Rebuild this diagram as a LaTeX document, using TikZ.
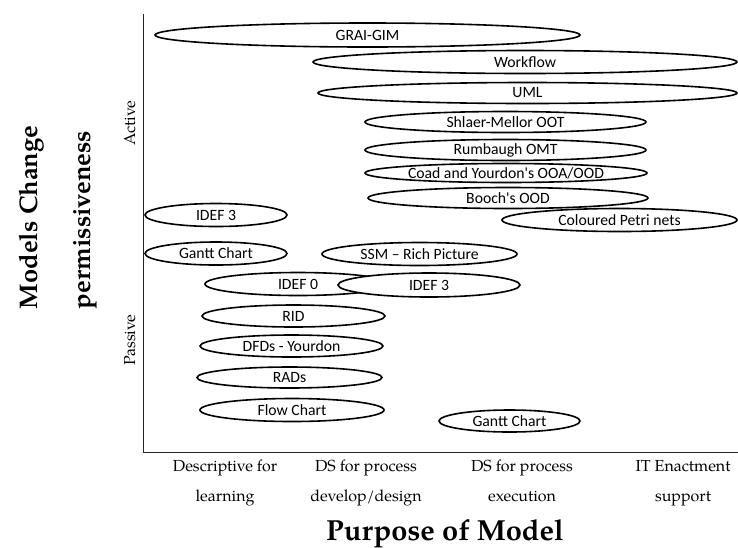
\documentclass[tikz,border=0pt]{standalone}
\usepackage{fontspec}
\usetikzlibrary{shapes.geometric}
\newfontfamily\labelfont{Carlito}
\newfontfamily\axisfont{texgyrepagella}[Extension=.otf, UprightFont=*-regular, BoldFont=*-bold]
\begin{document}
\begin{tikzpicture}[x=1pt, y=-1pt,
  model/.style={ellipse, draw=black, line width=1.6pt, fill=white, inner sep=0pt,
    font=\labelfont\fontsize{15.7}{18}\selectfont},
  tick/.style={font=\axisfont\fontsize{16}{19}\selectfont, anchor=base, inner sep=0pt},
  title/.style={font=\axisfont\bfseries\fontsize{29}{34}\selectfont, anchor=base, inner sep=0pt},
  vtitle/.style={title, font=\axisfont\bfseries\fontsize{25.5}{30}\selectfont, rotate=90},
  axis/.style={line width=1.6pt, draw=black!85}]
\useasboundingbox (0,0) rectangle (738,547);

% axes
\coordinate (top) at (143.5,14);
\coordinate (origin) at (143.5,452.5);
\coordinate (right) at (738,452.5);
\draw[axis] (top) -- (origin) -- (right);

% axis titles
\node[vtitle] (ytitleA) at (37,217.5) {Models Change};
\node[vtitle] (ytitleB) at (90,220) {permissiveness};
\node[title] (xtitle) at (445,540) {Purpose of Model};

% y levels
\node[tick, rotate=90] (active) at (135,123) {Active};
\node[tick, rotate=90] (passive) at (135,340) {Passive};

% x categories
\node[tick] (c1a) at (225,471) {Descriptive for};
\node[tick] (c1b) at (225,501) {learning};
\node[tick] (c2a) at (366,471) {DS for process};
\node[tick] (c2b) at (366,501) {develop/design};
\node[tick] (c3a) at (522,471) {DS for process};
\node[tick] (c3b) at (522,501) {execution};
\node[tick] (c4a) at (683,471) {IT Enactment};
\node[tick] (c4b) at (683,501) {support};

% modelling techniques
\node[model, minimum width=425, minimum height=24] (grai) at (367.5,35) {GRAI-GIM};
\node[model, minimum width=424, minimum height=23] (workflow) at (525,62) {Workflow};
\node[model, minimum width=419, minimum height=21] (uml) at (527.5,93) {UML};
\node[model, minimum width=281, minimum height=21] (shlaer) at (505.5,122) {Shlaer-Mellor OOT};
\node[model, minimum width=281, minimum height=21] (rumbaugh) at (505.5,150) {Rumbaugh OMT};
\node[model, minimum width=282, minimum height=19] (coad) at (506,173) {Coad and Yourdon's OOA/OOD};
\node[model, minimum width=280, minimum height=21] (booch) at (508,198) {Booch's OOD};
\node[model, minimum width=235, minimum height=23] (petri) at (619.5,220) {Coloured Petri nets};
\node[model, minimum width=142, minimum height=23] (idef3a) at (216,215) {IDEF 3};
\node[model, minimum width=142, minimum height=23] (gantta) at (216,253.5) {Gantt Chart};
\node[model, minimum width=195, minimum height=23] (ssm) at (419.5,254) {SSM – Rich Picture};
\node[model, minimum width=186, minimum height=23] (idef0) at (298,284) {IDEF 0};
\node[model, minimum width=182, minimum height=24] (idef3b) at (429,285) {IDEF 3};
\node[model, minimum width=183, minimum height=22] (rid) at (293.5,316) {RID};
\node[model, minimum width=183, minimum height=22] (dfd) at (291.5,346) {DFDs - Yourdon};
\node[model, minimum width=185, minimum height=21] (rads) at (289.5,377.5) {RADs};
\node[model, minimum width=184, minimum height=23] (flow) at (292,410) {Flow Chart};
\node[model, minimum width=141, minimum height=22] (ganttb) at (509.5,421) {Gantt Chart};
\end{tikzpicture}
\end{document}
